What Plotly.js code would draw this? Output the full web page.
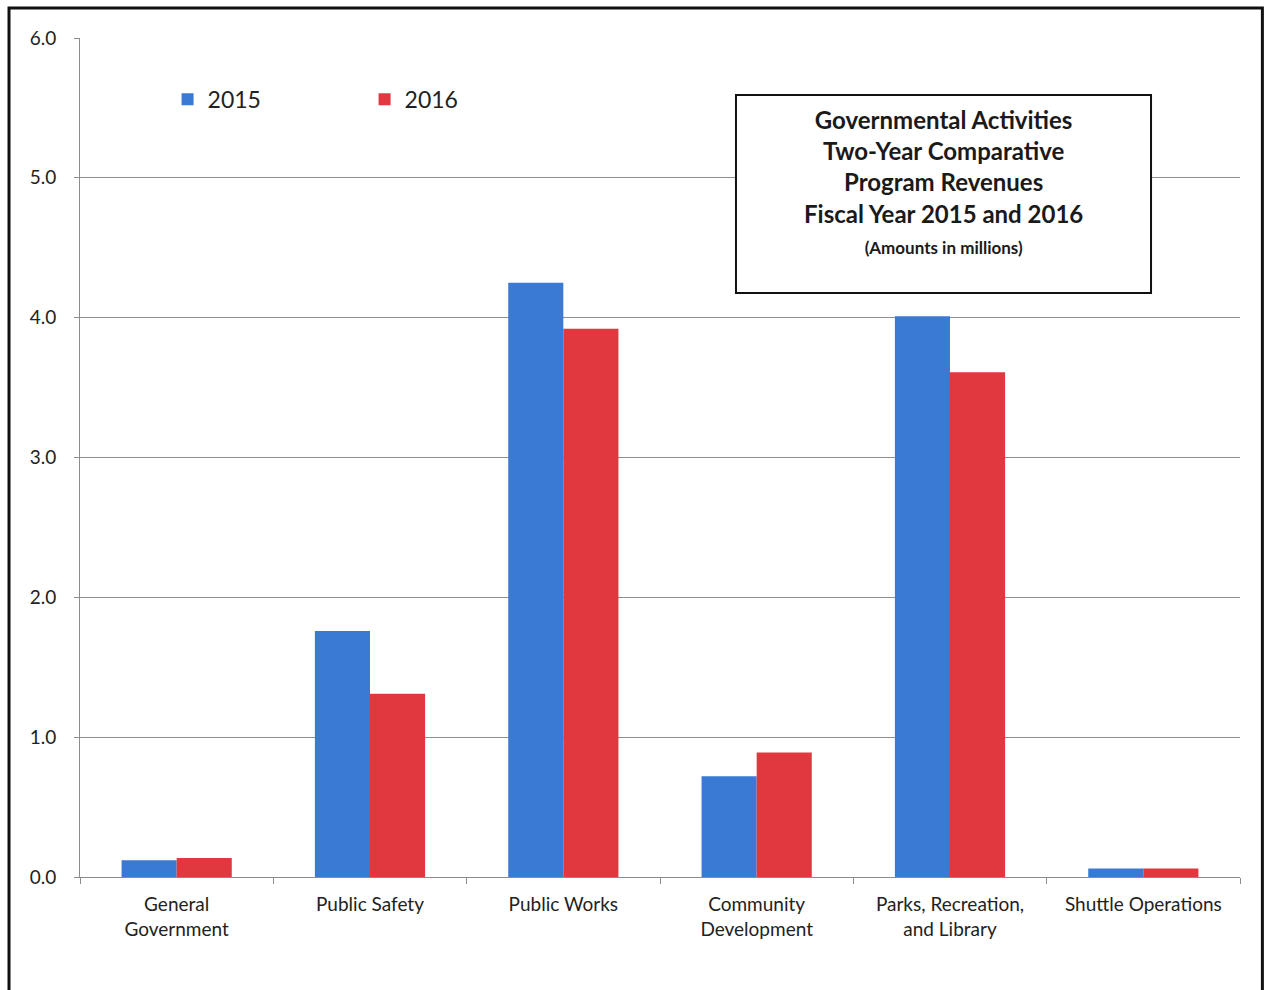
<!DOCTYPE html>
<html>
<head>
<meta charset="utf-8">
<script src="https://cdn.plot.ly/plotly-3.0.1.min.js"></script>
<style>
  html, body { margin: 0; padding: 0; background: #fff; }
  #chart { width: 1264px; height: 990px; }
</style>
</head>
<body>
<div id="chart"></div>
<script>
const categories = ["General<br>Government", "Public Safety", "Public Works", "Community<br>Development", "Parks, Recreation,<br>and Library", "Shuttle Operations"];
const values2015 = [0.12, 1.76, 4.25, 0.72, 4.01, 0.06];
const values2016 = [0.135, 1.31, 3.92, 0.89, 3.61, 0.06];
const yTickValues = [0, 1, 2, 3, 4, 5, 6];
const yTickLabels = ["0.0", "1.0", "2.0", "3.0", "4.0", "5.0", "6.0"];
const titleLines = ["Governmental Activities", "Two-Year Comparative", "Program Revenues", "Fiscal Year 2015 and 2016"];
const subtitle = "(Amounts in millions)";

const FONT = "Lato, 'Open Sans', sans-serif";

const traces = [
  { type: "bar", name: "2015", x: categories, y: values2015, marker: { color: "#3a7ad5" } },
  { type: "bar", name: "2016", x: categories, y: values2016, marker: { color: "#e1373f" } }
];

const layout = {
  width: 1264, height: 990,
  paper_bgcolor: "#ffffff", plot_bgcolor: "#ffffff",
  margin: { l: 80, r: 24, t: 38, b: 113 },
  font: { family: FONT, color: "#222" },
  barmode: "group", bargap: 0.43, bargroupgap: 0,
  showlegend: true,
  legend: {
    orientation: "h", x: 0.0755, xanchor: "left", y: 0.927, yanchor: "middle",
    font: { family: FONT, size: 23, color: "#222" },
    entrywidth: 152, entrywidthmode: "pixels", bgcolor: "rgba(0,0,0,0)"
  },
  xaxis: {
    type: "category",
    showgrid: false, showline: true, linecolor: "#8c8c8c", linewidth: 1,
    ticks: "outside", tickson: "boundaries", ticklen: 6, tickcolor: "#8c8c8c",
    ticklabelstandoff: 10,
    tickfont: { family: FONT, size: 19, color: "#222" },
    fixedrange: true
  },
  yaxis: {
    range: [0, 6], tickvals: yTickValues, ticktext: yTickLabels,
    showgrid: true, gridcolor: "#8f8f8f", gridwidth: 1,
    showline: true, linecolor: "#8c8c8c", linewidth: 1,
    ticks: "outside", ticklen: 5, tickcolor: "#8c8c8c",
    ticklabelstandoff: 14,
    tickfont: { family: FONT, size: 19, color: "#222" },
    zeroline: false, fixedrange: true
  },
  annotations: [
    { xref: "paper", yref: "paper", x: 0.744, y: 0.9225, xanchor: "center", yanchor: "top",
      showarrow: false, align: "center",
      text: "<b>" + titleLines.join("<br>") + "<br><span style='font-size:17px'>" + subtitle + "</span></b>",
      font: { family: FONT, size: 24, color: "#1a1a1a" } }
  ],
  shapes: [
    { type: "rect", xref: "paper", yref: "paper", x0: 0.5655, x1: 0.9233, y0: 0.6961, y1: 0.9321,
      line: { color: "#111", width: 2 }, fillcolor: "#ffffff", layer: "above" },
    { type: "rect", xref: "paper", yref: "paper", x0: -0.0612, x1: 1.0193, y0: -0.14, y1: 1.0357,
      line: { color: "#111", width: 3 }, fillcolor: "rgba(0,0,0,0)", layer: "above" }
  ]
};

Plotly.newPlot("chart", traces, layout, { displayModeBar: false, staticPlot: true });
</script>
</body>
</html>
